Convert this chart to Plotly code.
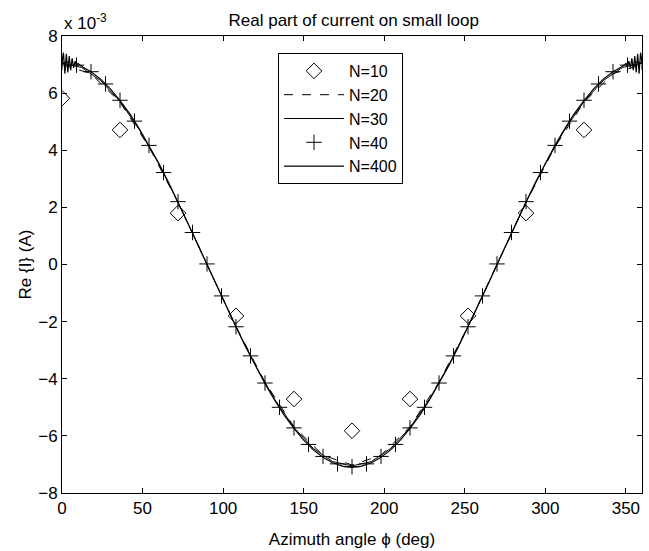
import plotly.graph_objects as go

# ---- data (values in units of 1e-3 A) ----
phi10 = [0, 36, 72, 108, 144, 180, 216, 252, 288, 324]
re10 = [5.82, 4.71, 1.80, -1.80, -4.71, -5.82, -4.71, -1.80, 1.80, 4.71]

phi20 = [0, 18, 36, 54, 72, 90, 108, 126, 144, 162, 180,
         198, 216, 234, 252, 270, 288, 306, 324, 342, 360]
re20 = [7.00, 6.68, 5.68, 4.12, 2.17, 0.00, -2.17, -4.12, -5.68, -6.68, -7.02,
        -6.68, -5.68, -4.12, -2.17, 0.00, 2.17, 4.12, 5.68, 6.68, 7.00]

phi30 = [0, 12, 24, 36, 48, 60, 72, 84, 96, 108, 120, 132, 144, 156, 168, 180,
         192, 204, 216, 228, 240, 252, 264, 276, 288, 300, 312, 324, 336, 348, 360]
re30 = [7.05, 6.90, 6.44, 5.71, 4.72, 3.53, 2.18, 0.74, -0.74, -2.18, -3.53, -4.72,
        -5.71, -6.44, -6.90, -7.05, -6.90, -6.44, -5.71, -4.72, -3.53, -2.18, -0.74,
        0.74, 2.18, 3.53, 4.72, 5.71, 6.44, 6.90, 7.05]

phi40 = [0, 9, 18, 27, 36, 45, 54, 63, 72, 81, 90, 99, 108, 117, 126, 135, 144,
         153, 162, 171, 180, 189, 198, 207, 216, 225, 234, 243, 252, 261, 270,
         279, 288, 297, 306, 315, 324, 333, 342, 351, 360]
re40 = [7.08, 6.98, 6.75, 6.32, 5.75, 5.02, 4.17, 3.22, 2.20, 1.12, 0.02,
        -1.10, -2.18, -3.20, -4.15, -5.00, -5.72, -6.30, -6.72, -6.98, -7.08,
        -6.98, -6.72, -6.30, -5.72, -5.00, -4.15, -3.20, -2.18, -1.10, 0.02,
        1.12, 2.20, 3.22, 4.17, 5.02, 5.75, 6.32, 6.75, 6.98, 7.08]

phi400 = [0, 0.9, 1.8, 2.7, 3.6, 4.5, 5.4, 6.3, 7.2, 8.1, 9.0, 9.9, 12, 18, 24,
          30, 36, 42, 48, 54, 60, 66, 72, 78, 84, 90, 96, 102, 108, 114, 120,
          126, 132, 138, 144, 150, 156, 162, 168, 174, 180, 186, 192, 198, 204,
          210, 216, 222, 228, 234, 240, 246, 252, 258, 264, 270, 276, 282, 288,
          294, 300, 306, 312, 318, 324, 330, 336, 342, 348, 350.1, 351.0, 351.9,
          352.8, 353.7, 354.6, 355.5, 356.4, 357.3, 358.2, 359.1, 360]
re400 = [7.05, 7.42, 6.68, 7.38, 6.72, 7.30, 6.80, 7.22, 6.88, 7.12, 6.95, 7.04,
         6.94, 6.75, 6.49, 6.15, 5.74, 5.28, 4.75, 4.17, 3.55, 2.89, 2.19, 1.48,
         0.74, 0.00, -0.74, -1.48, -2.19, -2.89, -3.55, -4.17, -4.75, -5.28,
         -5.74, -6.15, -6.49, -6.75, -6.94, -7.06, -7.10, -7.06, -6.94, -6.75,
         -6.49, -6.15, -5.74, -5.28, -4.75, -4.17, -3.55, -2.89, -2.19, -1.48,
         -0.74, 0.00, 0.74, 1.48, 2.19, 2.89, 3.55, 4.17, 4.75, 5.28, 5.74, 6.15,
         6.49, 6.75, 6.94, 7.04, 6.95, 7.12, 6.88, 7.22, 6.80, 7.30, 6.72, 7.38,
         6.68, 7.42, 7.05]

xticks = [0, 50, 100, 150, 200, 250, 300, 350]
yticks = [-8, -6, -4, -2, 0, 2, 4, 6, 8]

FONT = "Liberation Sans, Arial, Helvetica, sans-serif"
FS = 17

fig = go.Figure()
fig.add_trace(go.Scatter(x=phi10, y=re10, mode="markers", name="N=10",
                         marker=dict(symbol="diamond-open", size=12, color="black",
                                     line=dict(width=1, color="black"))))
fig.add_trace(go.Scatter(x=phi20, y=re20, mode="lines", name="N=20",
                         line=dict(color="black", width=1, dash="dash")))
fig.add_trace(go.Scatter(x=phi30, y=re30, mode="lines", name="N=30",
                         line=dict(color="black", width=1)))
fig.add_trace(go.Scatter(x=phi40, y=re40, mode="markers", name="N=40",
                         marker=dict(symbol="cross-thin", size=11, color="black",
                                     line=dict(width=1, color="black"))))
fig.add_trace(go.Scatter(x=phi400, y=re400, mode="lines", name="N=400",
                         line=dict(color="black", width=1.2)))

axis_common = dict(showline=True, linecolor="black", linewidth=1, mirror="ticks",
                   ticks="inside", ticklen=5, tickcolor="black", tickwidth=1,
                   showgrid=False, zeroline=False, automargin=False,
                   tickfont=dict(family=FONT, size=FS, color="black"))

fig.update_layout(
    width=649, height=551,
    paper_bgcolor="white", plot_bgcolor="white",
    margin=dict(l=62, r=7, t=36, b=58),
    font=dict(family=FONT, size=FS, color="black"),
    title=dict(text="Real part of current on small loop", x=0.545, xanchor="center",
               y=1 - 20 / 551, yanchor="middle", font=dict(family=FONT, size=FS)),
    xaxis=dict(range=[0, 360], tickvals=xticks,
               title=dict(text="Azimuth angle ϕ (deg)", standoff=15,
                          font=dict(family=FONT, size=FS)),
               **axis_common),
    yaxis=dict(range=[-8, 8], tickvals=yticks, **axis_common),
    legend=dict(x=(278 - 62) / 580, y=(493 - 53) / 457, xanchor="left", yanchor="top",
                bgcolor="white", bordercolor="black", borderwidth=1,
                font=dict(family=FONT, size=16), itemwidth=60),
    showlegend=True,
)
# y-axis title
fig.add_annotation(text="Re {I} (A)", xref="paper", yref="paper",
                   x=0.0, y=0.5, xanchor="center", yanchor="middle", xshift=-37,
                   textangle=-90, showarrow=False, font=dict(family=FONT, size=FS))
# exponent label
fig.add_annotation(text="x 10<sup>-3</sup>", xref="paper", yref="paper",
                   x=0.0, y=1.0, xanchor="left", yanchor="bottom", yshift=1,
                   showarrow=False, font=dict(family=FONT, size=FS))

fig.write_html("out.html", config={"displayModeBar": False},
               post_script="document.body.style.margin='0px';"
                           "document.body.style.overflow='hidden';")
